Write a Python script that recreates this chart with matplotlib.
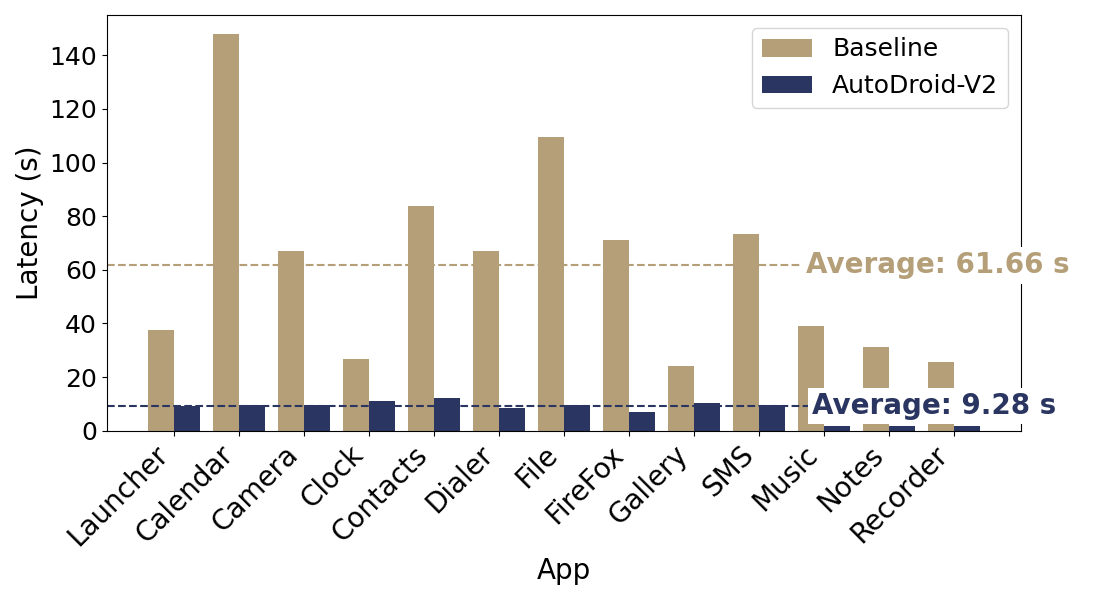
import numpy as np
import matplotlib.pyplot as plt

# latency per app
apps = ['Launcher', 'Calendar', 'Camera', 'Clock', 'Contacts', 'Dialer', 'File',
        'FireFox', 'Gallery', 'SMS', 'Music', 'Notes', 'Recorder']
baseline = [37.4, 148.0, 67.0, 26.6, 83.8, 67.0, 109.6, 71.0, 24.0, 73.3, 38.9, 31.4, 25.8]
autodroid = [9.1, 9.7, 9.7, 11.2, 12.4, 8.6, 9.5, 6.9, 10.2, 9.5, 1.9, 1.9, 1.9]
avg_baseline = 61.66
avg_autodroid = 9.28

c_base = '#B59F78'
c_auto = '#2A3661'

fig, ax = plt.subplots(figsize=(11, 6), dpi=100)
x = np.arange(len(apps))
w = 0.4

ax.bar(x - w / 2, baseline, w, color=c_base, label='Baseline')
ax.bar(x + w / 2, autodroid, w, color=c_auto, label='AutoDroid-V2')

ax.axhline(avg_baseline, color=c_base, linestyle='--', linewidth=1.5)
ax.axhline(avg_autodroid, color=c_auto, linestyle='--', linewidth=1.5)

ax.text(9.72, avg_baseline, f'Average: {avg_baseline:.2f} s', color=c_base,
        fontsize=20, fontweight='bold', va='center', ha='left',
        bbox=dict(facecolor='white', edgecolor='none', pad=3))
ax.text(9.82, avg_autodroid, f'Average: {avg_autodroid:.2f} s', color=c_auto,
        fontsize=20, fontweight='bold', va='center', ha='left',
        bbox=dict(facecolor='white', edgecolor='none', pad=3))

ax.set_xticks(x)
ax.set_xticklabels(apps, rotation=45, ha='right', fontsize=20)
ax.tick_params(axis='y', labelsize=18)
ax.set_xlim(-1.03, 13.03)
ax.set_ylim(0, 155)
ax.set_xlabel('App', fontsize=20)
ax.set_ylabel('Latency (s)', fontsize=20)
ax.legend(loc='upper right', fontsize=18)

plt.subplots_adjust(left=0.097, right=0.928, top=0.975, bottom=0.282)
plt.savefig('out.png')
